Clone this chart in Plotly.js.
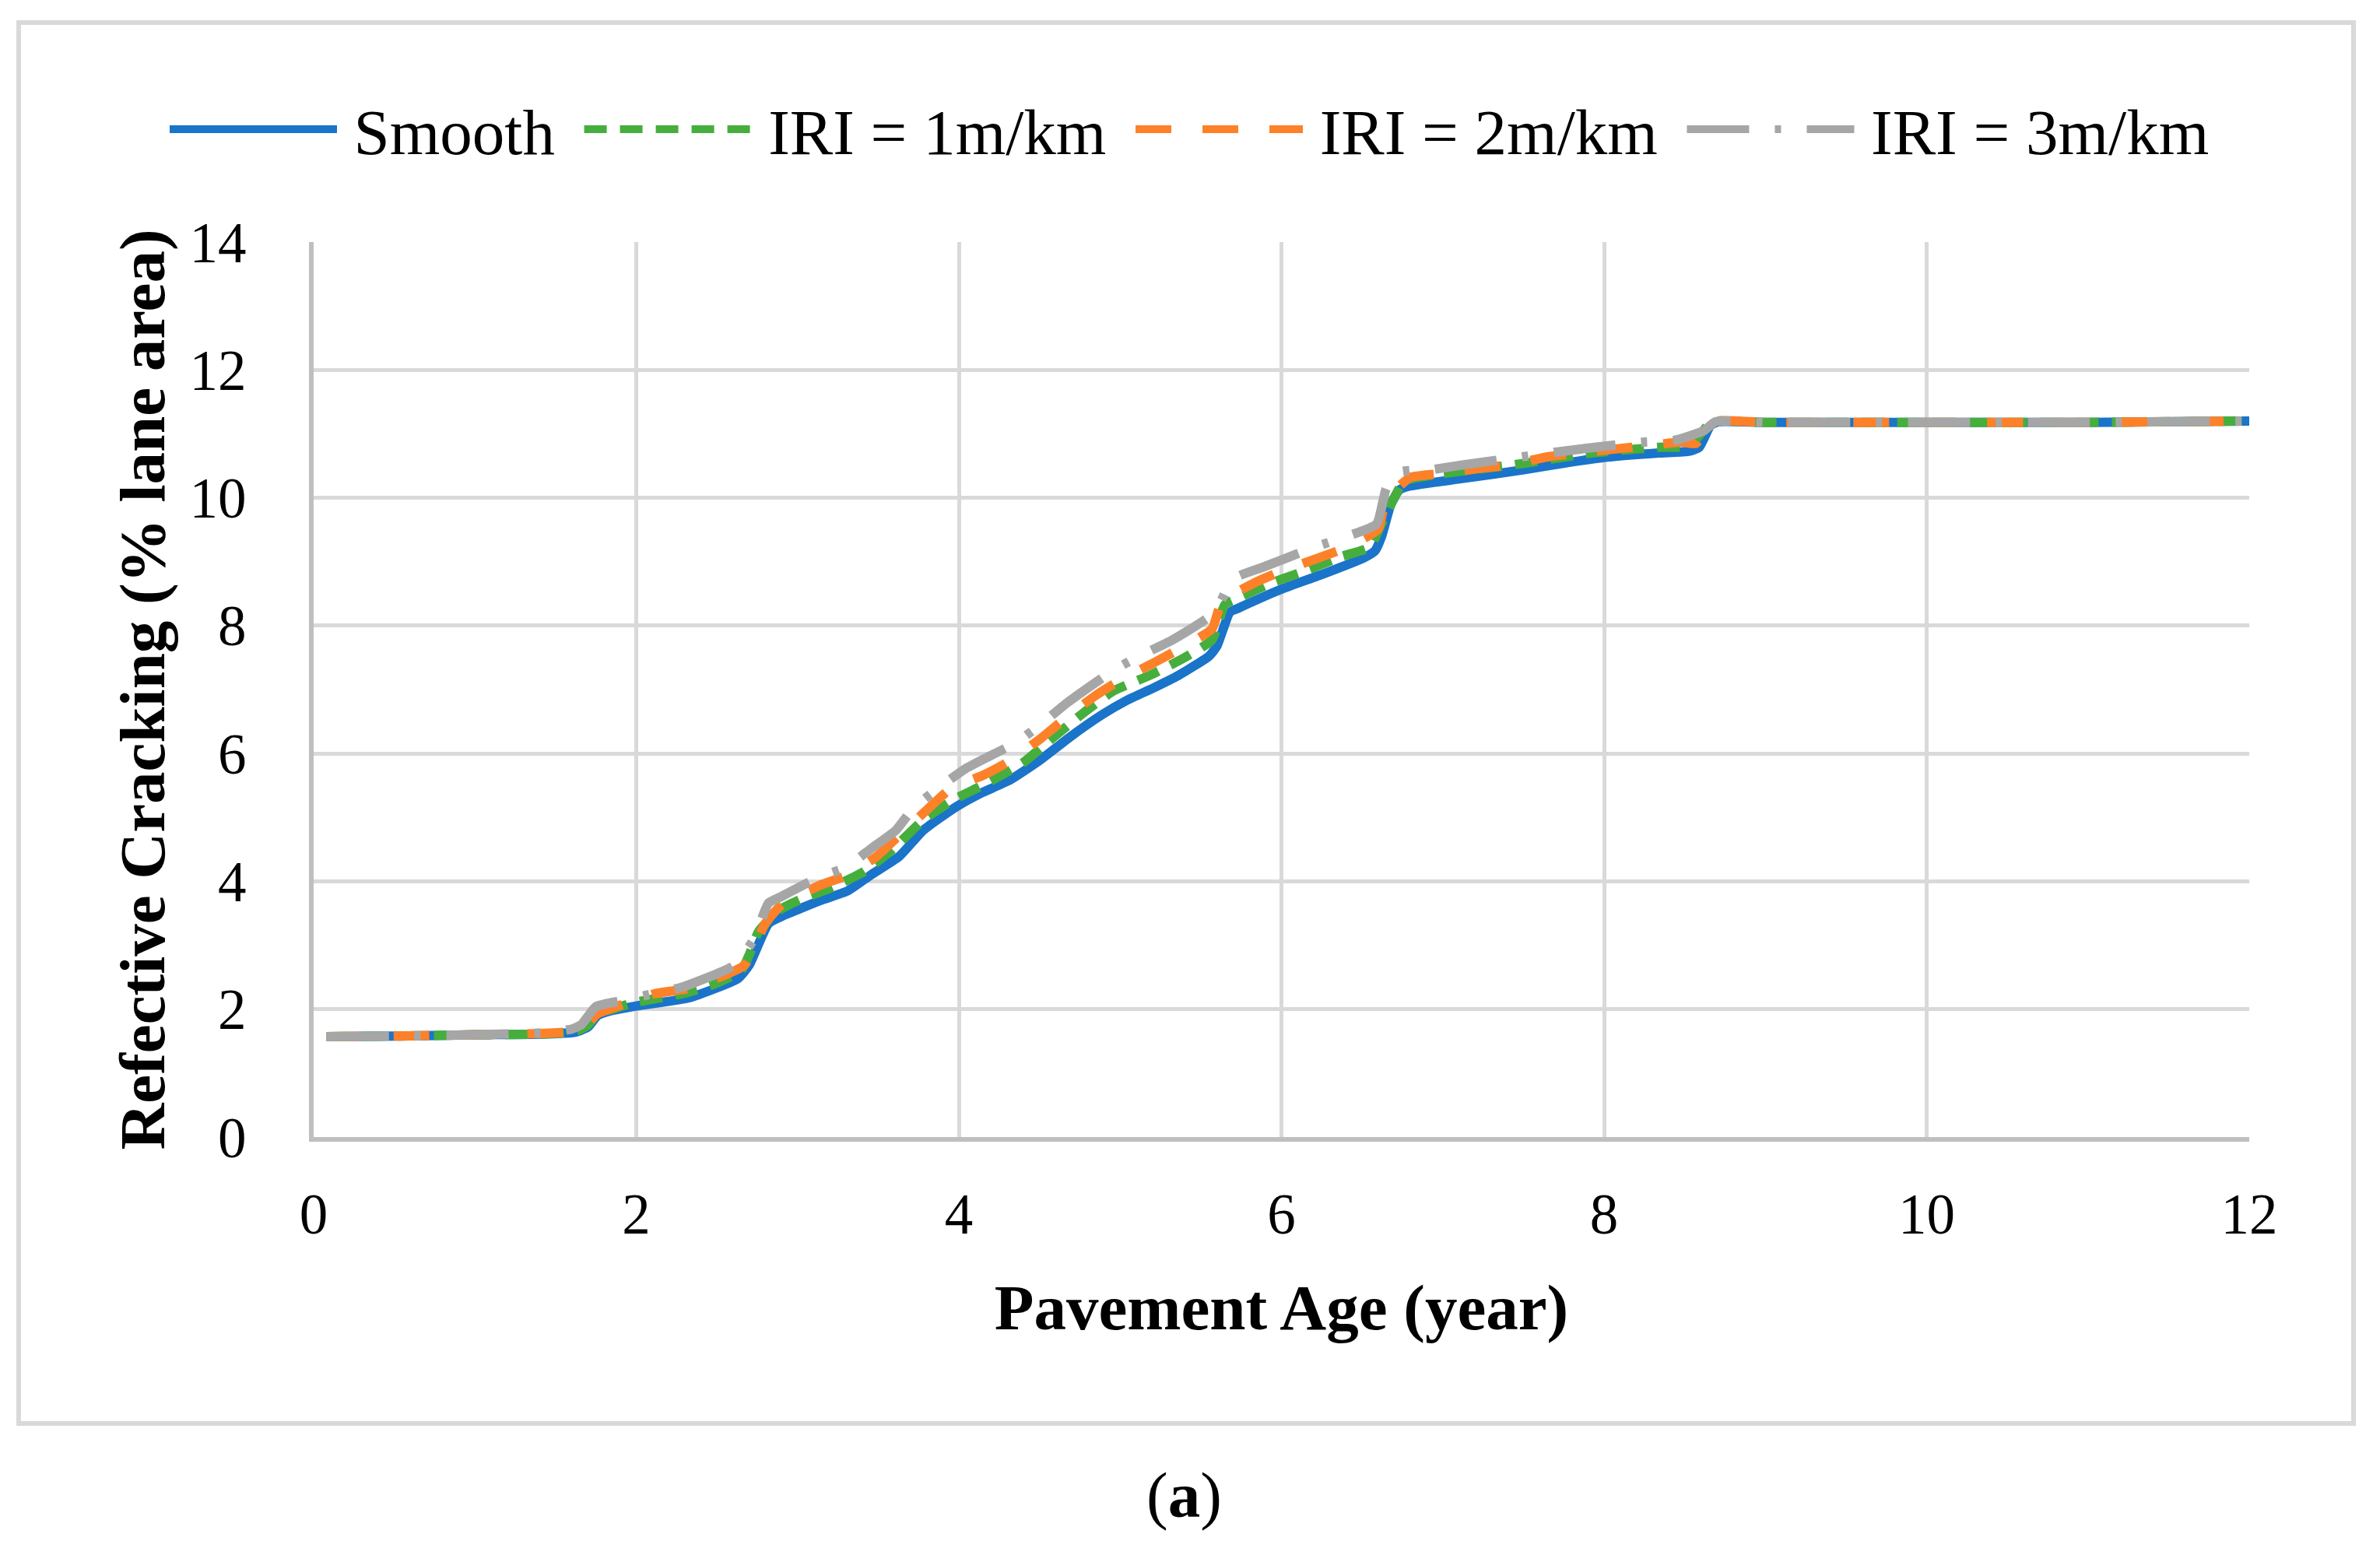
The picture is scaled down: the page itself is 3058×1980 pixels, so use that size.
<!DOCTYPE html>
<html>
<head>
<meta charset="utf-8">
<script src="https://cdn.plot.ly/plotly-3.0.1.min.js"></script>
<style>
  html, body { margin: 0; padding: 0; background: #ffffff; }
  #chart { width: 3058px; height: 1980px; }
</style>
</head>
<body>
<div id="chart"></div>
<script>
// ---- Data ----
const seriesNames = ["Smooth", "IRI = 1m/km", "IRI = 2m/km", "IRI = 3m/km"];

const smoothAge = [0.08, 0.5, 1.0, 1.4, 1.62, 1.7, 1.76, 1.82, 2.0, 2.33, 2.63, 2.7, 2.82, 2.9, 3.14, 3.31, 3.46, 3.63, 3.78, 3.98, 4.13, 4.32, 4.5, 4.69, 4.89, 5.04, 5.21, 5.36, 5.55, 5.6, 5.68, 5.73, 6.0, 6.26, 6.51, 6.58, 6.62, 6.68, 6.73, 6.79, 7.12, 7.51, 7.7, 8.0, 8.34, 8.53, 8.59, 8.66, 8.71, 9.0, 10.0, 11.0, 12.0];
const smoothCrack = [1.57, 1.58, 1.6, 1.61, 1.64, 1.72, 1.9, 1.96, 2.05, 2.18, 2.48, 2.69, 3.34, 3.45, 3.70, 3.85, 4.11, 4.39, 4.80, 5.16, 5.37, 5.59, 5.89, 6.26, 6.61, 6.83, 7.03, 7.22, 7.52, 7.68, 8.21, 8.27, 8.57, 8.81, 9.06, 9.17, 9.39, 9.91, 10.12, 10.18, 10.30, 10.44, 10.52, 10.63, 10.70, 10.73, 10.79, 11.13, 11.19, 11.18, 11.18, 11.18, 11.2];

const iri1Age = [0.08, 0.5, 1.0, 1.4, 1.62, 1.7, 1.76, 1.85, 1.98, 2.3, 2.48, 2.65, 2.7, 2.76, 2.88, 3.02, 3.19, 3.41, 3.58, 3.78, 3.97, 4.17, 4.40, 4.58, 4.78, 4.96, 5.19, 5.40, 5.57, 5.65, 5.74, 5.93, 6.15, 6.37, 6.55, 6.61, 6.7, 6.76, 6.95, 7.51, 7.92, 8.34, 8.53, 8.65, 8.71, 9.0, 10.0, 11.0, 12.0];
const iri1Crack = [1.57, 1.58, 1.6, 1.61, 1.65, 1.75, 1.93, 2.0, 2.1, 2.25, 2.39, 2.6, 2.85, 3.22, 3.54, 3.72, 3.88, 4.15, 4.48, 4.96, 5.28, 5.53, 5.86, 6.24, 6.65, 6.98, 7.23, 7.50, 7.78, 8.33, 8.44, 8.66, 8.86, 9.08, 9.23, 9.54, 10.0, 10.26, 10.36, 10.54, 10.70, 10.79, 10.81, 11.15, 11.2, 11.18, 11.18, 11.18, 11.2];

const iri2Age = [0.08, 0.5, 1.0, 1.4, 1.62, 1.7, 1.76, 1.81, 2.11, 2.33, 2.67, 2.8, 2.9, 3.13, 3.30, 3.49, 3.63, 3.79, 3.95, 4.16, 4.32, 4.51, 4.66, 4.85, 5.01, 5.21, 5.37, 5.57, 5.63, 5.85, 6.01, 6.23, 6.41, 6.60, 6.63, 6.7, 6.80, 7.0, 7.23, 7.43, 7.65, 7.84, 8.06, 8.26, 8.48, 8.57, 8.63, 8.7, 9.0, 10.0, 11.0, 12.0];
const iri2Crack = [1.57, 1.58, 1.6, 1.62, 1.66, 1.78, 1.93, 1.98, 2.24, 2.33, 2.69, 3.34, 3.63, 3.93, 4.09, 4.39, 4.72, 5.09, 5.45, 5.67, 5.89, 6.24, 6.55, 6.91, 7.16, 7.42, 7.64, 7.95, 8.37, 8.69, 8.86, 9.06, 9.23, 9.51, 9.79, 10.1, 10.32, 10.38, 10.46, 10.52, 10.64, 10.70, 10.76, 10.81, 10.87, 10.85, 11.09, 11.2, 11.18, 11.18, 11.18, 11.2];

const iri3Age = [0.08, 0.5, 1.0, 1.4, 1.6, 1.66, 1.75, 1.88, 2.10, 2.29, 2.61, 2.73, 2.82, 2.89, 3.12, 3.30, 3.46, 3.61, 3.72, 3.87, 4.04, 4.36, 4.52, 4.67, 4.97, 5.14, 5.32, 5.57, 5.61, 5.70, 5.89, 6.22, 6.41, 6.59, 6.65, 6.73, 6.93, 7.14, 7.49, 7.69, 7.88, 8.24, 8.44, 8.62, 8.69, 9.0, 10.0, 11.0, 12.0];
const iri3Crack = [1.57, 1.58, 1.6, 1.63, 1.69, 1.76, 2.04, 2.12, 2.24, 2.35, 2.69, 3.10, 3.66, 3.75, 4.05, 4.22, 4.52, 4.80, 5.15, 5.45, 5.76, 6.18, 6.48, 6.79, 7.32, 7.55, 7.77, 8.17, 8.31, 8.73, 8.92, 9.24, 9.40, 9.59, 10.15, 10.40, 10.44, 10.52, 10.64, 10.71, 10.77, 10.87, 10.90, 11.05, 11.19, 11.18, 11.18, 11.18, 11.2];

const xTickVals = [0, 2, 4, 6, 8, 10, 12];
const yTickVals = [0, 2, 4, 6, 8, 10, 12, 14];
const xTitle = "Pavement Age (year)";
const yTitle = "Refective Cracking (% lane area)";
const caption = "(<b>a</b>)";

// ---- Styles ----
const colors = ["#1a74c9", "#46ae3c", "#fd8129", "#a6a6a6"];
const dashes = ["solid", "29px,17px", "46px,40px", "80px,33px,8px,33px"];
const LW = 12;
const FONT = "'Liberation Serif', 'Times New Roman', serif";
const LEAD = "\u2009";
const TRAIL = "\u00A0\u200A";

const xs = [smoothAge, iri1Age, iri2Age, iri3Age];
const ys = [smoothCrack, iri1Crack, iri2Crack, iri3Crack];

const traces = seriesNames.map((name, i) => ({
  type: "scatter",
  mode: "lines",
  // invisible spaces only pad the legend entry spacing
  name: LEAD + name + TRAIL,
  x: xs[i],
  y: ys[i],
  line: { color: colors[i], width: LW, dash: dashes[i], shape: "spline", smoothing: 0.5 },
  hoverinfo: "skip"
}));

// pixel geometry of the plot area
const W = 3058, H = 1980;
const L = 403, R = 2890, T = 311, B = 1461;
const pw = R - L, ph = B - T;
const px2x = p => (p - L) / pw;
const py2y = p => (B - p) / ph;

const layout = {
  width: W,
  height: H,
  margin: { l: L, r: W - R, t: T, b: H - B, pad: 0 },
  paper_bgcolor: "#ffffff",
  plot_bgcolor: "#ffffff",
  font: { family: FONT, color: "#000000", size: 72 },
  showlegend: true,
  legend: {
    orientation: "h",
    x: px2x(213),
    xanchor: "left",
    y: py2y(166),
    yanchor: "middle",
    font: { family: FONT, size: 83, color: "#000000" },
    itemwidth: 215,
    bgcolor: "rgba(0,0,0,0)",
    traceorder: "normal"
  },
  xaxis: {
    range: [0, 12],
    tickvals: xTickVals,
    ticktext: xTickVals.map(String),
    showgrid: true,
    gridcolor: "#d9d9d9",
    gridwidth: 5,
    zeroline: false,
    showline: true,
    linecolor: "#bfbfbf",
    linewidth: 6,
    ticks: "",
    ticklabelstandoff: 30,
    tickfont: { family: FONT, size: 73, color: "#000000" },
    title: { text: "<b>" + xTitle + "</b>", font: { family: FONT, size: 83, color: "#000000" }, standoff: 52 },
    automargin: false,
    fixedrange: true
  },
  yaxis: {
    range: [0, 14],
    tickvals: yTickVals,
    ticktext: yTickVals.map(String),
    showgrid: true,
    gridcolor: "#d9d9d9",
    gridwidth: 5,
    zeroline: false,
    showline: true,
    linecolor: "#bfbfbf",
    linewidth: 6,
    ticks: "",
    ticklabelstandoff: 66,
    tickfont: { family: FONT, size: 73, color: "#000000" },
    title: { text: "<b>" + yTitle + "</b>", font: { family: FONT, size: 83, color: "#000000" }, standoff: 6 },
    automargin: false,
    fixedrange: true
  },
  shapes: [
    {
      type: "rect", xref: "paper", yref: "paper", layer: "below",
      x0: px2x(24), x1: px2x(3024), y0: py2y(1829), y1: py2y(29),
      line: { color: "#d9d9d9", width: 6 }, fillcolor: "rgba(0,0,0,0)"
    }
  ],
  annotations: [
    {
      xref: "paper", yref: "paper", x: px2x(1521), y: py2y(1921),
      xanchor: "center", yanchor: "middle", showarrow: false,
      text: caption, font: { family: FONT, size: 83, color: "#000000" }
    }
  ]
};

Plotly.newPlot("chart", traces, layout, { staticPlot: true, displayModeBar: false });
</script>
</body>
</html>
